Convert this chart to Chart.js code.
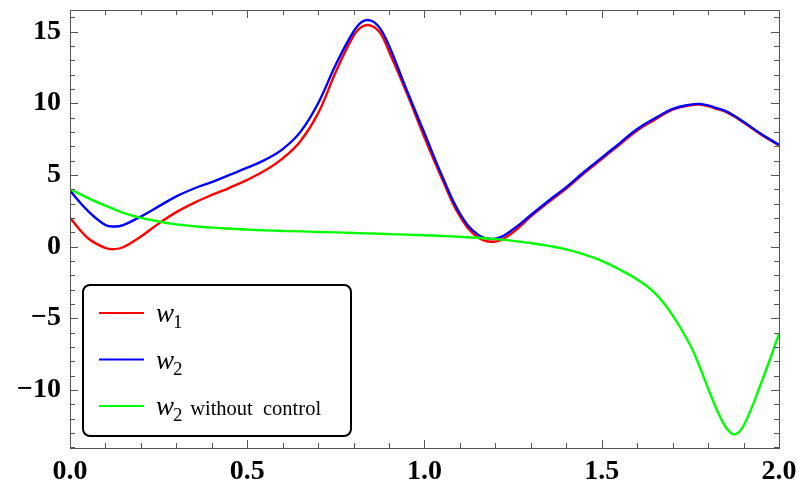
<!DOCTYPE html>
<html>
<head>
<meta charset="utf-8">
<script src="https://cdn.jsdelivr.net/npm/chart.js@4"></script>
<style>
  html, body { margin: 0; padding: 0; background: #fff; }
</style>
</head>
<body>
<canvas id="chart" width="797" height="488"></canvas>
<script>
// sample points along t
const xs = [0, 0.05, 0.1, 0.125, 0.15, 0.2, 0.25, 0.3, 0.35, 0.4, 0.45, 0.5, 0.55, 0.6, 0.65, 0.7, 0.75, 0.8,
  0.825, 0.85, 0.875, 0.9, 0.95, 1.0, 1.05, 1.1, 1.15, 1.2, 1.25, 1.3, 1.35, 1.4, 1.45, 1.5, 1.55, 1.6, 1.65,
  1.7, 1.75, 1.775, 1.8, 1.825, 1.85, 1.875, 1.9, 1.95, 2.0];

const w1 = [2.0, 0.6, -0.1, -0.18, -0.05, 0.7, 1.6, 2.4, 3.05, 3.6, 4.1, 4.65, 5.3, 6.15, 7.35, 9.3, 12.2, 14.7,
  15.35, 15.4, 14.9, 13.6, 10.7, 7.6, 4.7, 2.1, 0.65, 0.35, 1.0, 2.1, 3.1, 4.05, 5.1, 6.1, 7.1, 8.1, 8.85,
  9.55, 9.85, 9.9, 9.8, 9.6, 9.4, 9.05, 8.65, 7.8, 7.05];

const w2 = [3.9, 2.5, 1.5, 1.4, 1.5, 2.1, 2.8, 3.5, 4.05, 4.5, 5.0, 5.5, 6.05, 6.8, 8.0, 10.0, 12.7, 15.0,
  15.7, 15.75, 15.2, 14.0, 10.9, 7.9, 4.9, 2.3, 0.85, 0.55, 1.2, 2.2, 3.2, 4.15, 5.2, 6.2, 7.2, 8.2, 8.95,
  9.6, 9.9, 9.95, 9.85, 9.65, 9.45, 9.1, 8.7, 7.85, 7.1];

const w2NoControl = [4.0, 3.4, 2.85, 2.6, 2.35, 2.0, 1.75, 1.55, 1.42, 1.32, 1.24, 1.18, 1.13, 1.09, 1.06, 1.02, 0.99, 0.95,
  0.93, 0.91, 0.89, 0.87, 0.83, 0.79, 0.74, 0.68, 0.61, 0.52, 0.4, 0.24, 0.05, -0.2, -0.55, -1.0, -1.6, -2.3, -3.25,
  -4.8, -6.9, -8.3, -9.9, -11.4, -12.6, -13.1, -12.5, -9.5, -6.1];

// legend text: base letter, subscript, rest
const seriesNames = [["w", "1", ""], ["w", "2", ""], ["w", "2", " without  control"]];
const seriesColors = ["#ff0000", "#0000ff", "#00ff00"];

const xTicks = [0, 0.5, 1.0, 1.5, 2.0];
const yTicks = [-10, -5, 0, 5, 10, 15];
const xMinor = 0.1;
const yMinor = 1;

const SERIF = '"Liberation Serif", "DejaVu Serif", serif';

function pts(ys) {
  return xs.map((x, i) => ({ x: x, y: ys[i] }));
}

function noPad(s) {
  s.paddingTop = 0;
  s.paddingBottom = 0;
  s.paddingLeft = 0;
  s.paddingRight = 0;
}

// frame around the plot with inward ticks on all four sides
const frameTicks = {
  id: "frameTicks",
  afterDatasetsDraw(chart) {
    const { ctx, chartArea: a, scales: { x, y } } = chart;
    ctx.save();
    ctx.strokeStyle = "#555";
    ctx.lineWidth = 1;
    ctx.beginPath();
    for (let v = x.min; v <= x.max + 1e-9; v += xMinor) {
      const px = Math.round(x.getPixelForValue(v)) + 0.5;
      const major = xTicks.some(t => Math.abs(t - v) < 1e-6);
      const len = major ? 8 : 5;
      ctx.moveTo(px, a.bottom); ctx.lineTo(px, a.bottom - len);
      ctx.moveTo(px, a.top); ctx.lineTo(px, a.top + len);
    }
    for (let v = Math.ceil(y.min); v <= y.max; v += yMinor) {
      const py = Math.round(y.getPixelForValue(v)) + 0.5;
      const len = yTicks.includes(v) ? 8 : 5;
      ctx.moveTo(a.left, py); ctx.lineTo(a.left + len, py);
      ctx.moveTo(a.right, py); ctx.lineTo(a.right - len, py);
    }
    ctx.stroke();
    ctx.strokeRect(Math.round(a.left) + 0.5, Math.round(a.top) + 0.5,
      Math.round(a.right - a.left), Math.round(a.bottom - a.top));
    ctx.restore();
  }
};

// boxed legend with subscripts
const legendBox = {
  id: "legendBox",
  afterDraw(chart) {
    const ctx = chart.ctx;
    ctx.save();
    ctx.beginPath();
    ctx.roundRect(83, 285, 268, 151, 7);
    ctx.fillStyle = "#fff";
    ctx.fill();
    ctx.lineWidth = 2;
    ctx.strokeStyle = "#000";
    ctx.stroke();
    chart.data.datasets.forEach((ds, i) => {
      const yy = 313 + i * 46.5;
      ctx.beginPath();
      ctx.strokeStyle = ds.borderColor;
      ctx.lineWidth = 2;
      ctx.moveTo(99, yy);
      ctx.lineTo(144, yy);
      ctx.stroke();
      const [base, sub, rest] = seriesNames[i];
      ctx.fillStyle = "#000";
      ctx.textBaseline = "alphabetic";
      ctx.textAlign = "left";
      ctx.font = "italic 27px " + SERIF;
      ctx.fillText(base, 156, yy + 9);
      ctx.font = "19px " + SERIF;
      ctx.fillText(sub, 173, yy + 15);
      if (rest) {
        ctx.font = "20.5px " + SERIF;
        ctx.fillText(rest, 185, yy + 9);
      }
    });
    ctx.restore();
  }
};

const tickFont = { family: SERIF, size: 28, weight: "bold" };

new Chart(document.getElementById("chart"), {
  type: "line",
  data: {
    datasets: [
      { label: "w1", data: pts(w1), borderColor: seriesColors[0], order: 3 },
      { label: "w2", data: pts(w2), borderColor: seriesColors[1], order: 2 },
      { label: "w2 without control", data: pts(w2NoControl), borderColor: seriesColors[2], order: 1 },
    ],
  },
  options: {
    responsive: false,
    animation: false,
    devicePixelRatio: 1,
    layout: { padding: { top: 10, right: 18, left: 0, bottom: 0 } },
    elements: {
      line: { borderWidth: 2.4, tension: 0.4 },
      point: { radius: 0 },
    },
    plugins: {
      legend: { display: false },
      tooltip: { enabled: false },
    },
    scales: {
      x: {
        type: "linear",
        min: 0,
        max: 2,
        grid: { display: false, drawTicks: false },
        border: { display: false },
        ticks: {
          font: tickFont,
          color: "#000",
          padding: 7,
          maxRotation: 0,
          autoSkip: false,
          callback: v => v.toFixed(1),
        },
        afterBuildTicks: s => { s.ticks = xTicks.map(v => ({ value: v })); },
        afterFit: s => { s.height = 40; noPad(s); },
      },
      y: {
        min: -14.05,
        max: 16.5,
        grid: { display: false, drawTicks: false },
        border: { display: false },
        ticks: {
          font: tickFont,
          color: "#000",
          padding: 9,
          autoSkip: false,
          callback: v => (v < 0 ? "\u2212" + Math.abs(v) : String(v)),
        },
        afterBuildTicks: s => { s.ticks = yTicks.map(v => ({ value: v })); },
        afterFit: s => { s.width = 70; noPad(s); },
      },
    },
  },
  plugins: [frameTicks, legendBox],
});
</script>
</body>
</html>
